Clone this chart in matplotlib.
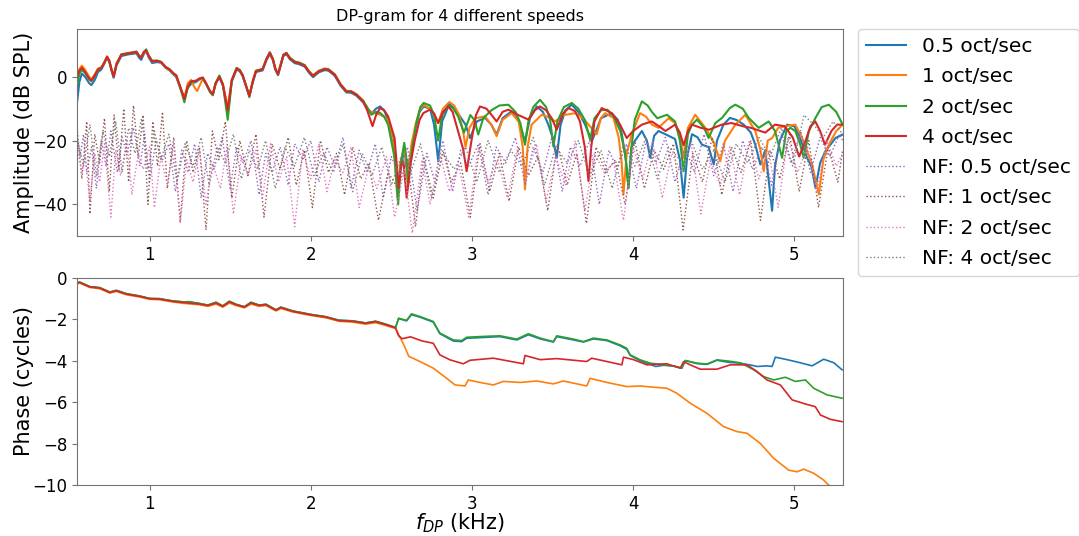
import numpy as np
import matplotlib
matplotlib.use("Agg")
import matplotlib.pyplot as plt

speeds = ["0.5 oct/sec", "1 oct/sec", "2 oct/sec", "4 oct/sec"]

# DP amplitude (dB SPL), per sweep speed
f_amp_05 = [0.550, 0.565, 0.580, 0.600, 0.625, 0.639, 0.660, 0.680, 0.701, 0.720, 0.736, 0.750, 0.765, 0.777, 0.795, 0.825,
            0.866, 0.895, 0.918, 0.935, 0.948, 0.965, 0.979, 0.995, 1.016, 1.045, 1.072, 1.100, 1.124, 1.150, 1.165, 1.190,
            1.216, 1.237, 1.258, 1.289, 1.310, 1.330, 1.350, 1.375, 1.392, 1.410, 1.433, 1.455, 1.485, 1.510, 1.540, 1.560,
            1.577, 1.600, 1.619, 1.640, 1.660, 1.701, 1.725, 1.746, 1.765, 1.780, 1.797, 1.815, 1.830, 1.849, 1.870, 1.900,
            1.930, 1.962, 1.990, 2.014, 2.050, 2.087, 2.110, 2.149, 2.185, 2.221, 2.250, 2.283, 2.325,
            2.350, 2.376, 2.405, 2.430, 2.455, 2.480, 2.520, 2.540, 2.560, 2.580, 2.592, 2.600, 2.625, 2.650, 2.675, 2.700,
            2.740, 2.765, 2.791, 2.815, 2.860, 2.900, 2.940, 2.960, 2.988, 3.030, 3.081, 3.120, 3.153, 3.190, 3.246, 3.290,
            3.329, 3.360, 3.402, 3.440, 3.474, 3.500, 3.526, 3.550, 3.580, 3.619, 3.660, 3.702, 3.743, 3.770, 3.800, 3.867,
            3.905, 3.930, 3.955, 3.971, 3.990, 4.012, 4.054, 4.085, 4.106, 4.130, 4.157, 4.200, 4.260, 4.290, 4.313, 4.335,
            4.365, 4.400, 4.427, 4.468, 4.500, 4.520, 4.560, 4.600, 4.640, 4.686, 4.730, 4.758, 4.789, 4.820, 4.862, 4.880,
            4.910, 4.955, 5.000, 5.027, 5.079, 5.105, 5.131, 5.160, 5.193, 5.255, 5.300]
amp_05 = [-8.0, -1.5, 1.0, 0.0, -2.0, -2.6, -1.0, 1.5, 2.3, 4.2, 6.0, 4.6, 1.8, -0.3, 3.6, 6.5,
          7.0, 7.2, 7.4, 6.0, 5.3, 7.2, 8.0, 6.0, 4.3, 4.6, 4.4, 2.8, 2.0, 0.6, 0.0, -3.5,
          -6.5, -3.5, -2.2, -1.6, -0.8, -0.6, -2.3, -4.6, -5.6, -2.2, -0.2, -2.8, -11.0, -1.5, 2.3, 1.7,
          0.2, -3.2, -6.0, -1.8, 1.5, 2.0, 5.2, 7.2, 5.2, 2.2, 0.5, 3.8, 6.5, 7.1, 5.5, 4.3,
          3.9, 3.2, 1.2, -0.1, 1.4, 2.1, 1.9, 0.3, -2.8, -4.9, -5.0, -5.9, -8.0,
          -10.0, -11.5, -10.0, -9.3, -10.5, -13.5, -22.0, -35.8, -27.0, -23.9, -26.0, -30.0, -22.0, -16.0, -11.0, -9.3,
          -10.0, -15.0, -26.5, -14.0, -8.5, -10.5, -13.5, -15.0, -19.2, -14.0, -12.9, -15.0, -18.1, -13.0, -10.8, -14.0,
          -20.2, -13.0, -9.3, -11.0, -15.0, -19.0, -25.4, -15.0, -10.5, -8.75, -11.0, -15.0, -20.2, -17.0, -13.0, -11.4,
          -13.5, -18.0, -26.0, -34.8, -22.0, -20.0, -17.0, -20.0, -25.4, -18.5, -17.0, -18.0, -19.5, -26.0, -37.9, -25.0,
          -18.0, -19.0, -21.3, -22.0, -27.5, -20.0, -15.0, -12.9, -13.5, -15.0, -17.5, -21.3, -27.5, -23.0, -42.0, -28.0,
          -20.0, -15.0, -15.5, -18.1, -25.4, -28.0, -34.8, -27.0, -23.3, -19.2, -18.1]

f_amp_1 = [0.550, 0.565, 0.580, 0.600, 0.625, 0.639, 0.660, 0.680, 0.701, 0.720, 0.736, 0.750, 0.765, 0.777, 0.795, 0.825,
           0.866, 0.895, 0.918, 0.935, 0.948, 0.965, 0.979, 0.995, 1.016, 1.045, 1.072, 1.100, 1.124, 1.150, 1.165, 1.190,
           1.216, 1.237, 1.258, 1.275, 1.295, 1.330, 1.350, 1.375, 1.392, 1.410, 1.433, 1.455, 1.485, 1.510, 1.540, 1.560,
           1.577, 1.600, 1.619, 1.640, 1.660, 1.701, 1.725, 1.746, 1.765, 1.780, 1.797, 1.815, 1.830, 1.849, 1.870, 1.900,
           1.930, 1.962, 1.990, 2.014, 2.050, 2.087, 2.110, 2.149, 2.185, 2.221, 2.250, 2.283, 2.325,
           2.350, 2.376, 2.405, 2.430, 2.455, 2.480, 2.515, 2.538, 2.555, 2.575, 2.590, 2.600, 2.625, 2.650, 2.675, 2.700,
           2.740, 2.765, 2.790, 2.820, 2.860, 2.890, 2.920, 2.945, 2.960, 2.985, 3.020, 3.081, 3.120, 3.153, 3.190, 3.246,
           3.290, 3.315, 3.329, 3.345, 3.370, 3.433, 3.470, 3.516, 3.570, 3.640, 3.690, 3.723, 3.774, 3.800, 3.826, 3.878,
           3.910, 3.929, 3.940, 3.960, 3.992, 4.043, 4.080, 4.116, 4.157, 4.220, 4.260, 4.290, 4.313, 4.340, 4.385, 4.448,
           4.500, 4.540, 4.570, 4.634, 4.696, 4.758, 4.790, 4.810, 4.835, 4.862, 4.900, 4.944, 5.006, 5.048, 5.110, 5.152,
           5.180, 5.214, 5.260, 5.300]
amp_1 = [-1.0, 2.5, 3.5, 2.2, 0.0, -0.8, 0.8, 2.6, 3.0, 4.6, 6.4, 5.2, 2.2, 0.3, 4.2, 7.0,
         7.5, 7.6, 7.9, 6.6, 6.2, 7.6, 8.2, 6.4, 4.8, 5.0, 4.5, 2.9, 2.2, 0.8, 0.3, -3.5,
         -6.5, -2.0, -1.0, -3.0, -4.5, -0.6, -2.2, -4.5, -5.4, -2.0, 0.2, -2.4, -9.5, -1.0, 2.7, 2.1,
         0.6, -3.0, -5.8, -1.3, 1.9, 2.5, 5.6, 7.6, 5.6, 2.6, 1.0, 4.2, 6.9, 7.5, 5.9, 4.8,
         4.4, 3.7, 1.7, 0.5, 1.9, 2.6, 2.4, 0.8, -2.3, -4.4, -4.5, -5.4, -7.4,
         -10.0, -11.0, -11.5, -11.9, -12.5, -13.5, -22.0, -37.9, -27.0, -23.0, -26.0, -33.0, -21.0, -15.0, -10.5, -8.75,
         -10.0, -12.0, -14.5, -10.0, -7.9, -9.0, -12.0, -17.0, -22.0, -16.0, -13.0, -12.4, -15.0, -18.6, -13.5, -11.4,
         -14.0, -22.0, -35.3, -22.0, -15.0, -11.9, -12.5, -14.0, -12.0, -11.4, -13.0, -15.0, -18.0, -13.0, -11.4, -12.9,
         -19.0, -27.0, -36.9, -24.0, -18.0, -11.4, -12.5, -15.0, -16.0, -13.0, -14.5, -18.5, -25.4, -16.0, -11.9, -16.0,
         -20.5, -26.5, -20.0, -15.0, -11.9, -17.0, -23.0, -29.6, -20.0, -19.2, -16.0, -15.5, -15.0, -19.2, -27.5, -36.9,
         -26.0, -21.3, -17.0, -15.0]

f_amp_2 = [0.550, 0.565, 0.580, 0.600, 0.625, 0.639, 0.660, 0.680, 0.701, 0.720, 0.736, 0.750, 0.765, 0.777, 0.795, 0.825,
           0.866, 0.895, 0.918, 0.935, 0.948, 0.965, 0.979, 0.995, 1.016, 1.045, 1.072, 1.100, 1.124, 1.150, 1.165, 1.190,
           1.216, 1.237, 1.258, 1.289, 1.310, 1.330, 1.350, 1.375, 1.392, 1.410, 1.433, 1.455, 1.485, 1.510, 1.540, 1.560,
           1.577, 1.600, 1.619, 1.640, 1.660, 1.701, 1.725, 1.746, 1.765, 1.780, 1.797, 1.815, 1.830, 1.849, 1.870, 1.900,
           1.930, 1.962, 1.990, 2.014, 2.050, 2.087, 2.110, 2.149, 2.185, 2.221, 2.250, 2.283, 2.325,
           2.350, 2.376, 2.405, 2.430, 2.455, 2.480, 2.520, 2.542, 2.560, 2.580, 2.592, 2.605, 2.630, 2.657, 2.680, 2.700,
           2.740, 2.765, 2.790, 2.815, 2.853, 2.885, 2.915, 2.950, 2.990, 3.015, 3.039, 3.070, 3.120, 3.170, 3.226, 3.270,
           3.300, 3.329, 3.350, 3.380, 3.422, 3.460, 3.485, 3.505, 3.530, 3.570, 3.619, 3.660, 3.700, 3.733, 3.760, 3.800,
           3.840, 3.880, 3.920, 3.950, 3.971, 3.990, 4.010, 4.054, 4.090, 4.116, 4.150, 4.210, 4.260, 4.290, 4.313, 4.340,
           4.365, 4.396, 4.440, 4.468, 4.510, 4.551, 4.600, 4.634, 4.680, 4.717, 4.779, 4.841, 4.880, 4.924, 4.950, 4.976,
           5.006, 5.035, 5.058, 5.090, 5.131, 5.170, 5.214, 5.260, 5.300]
amp_2 = [-3.0, 1.0, 2.2, 1.2, -0.8, -1.4, 0.2, 2.2, 2.8, 4.6, 6.2, 5.0, 2.0, 0.2, 4.0, 7.0,
         7.3, 7.6, 7.9, 6.6, 6.1, 7.9, 8.6, 6.6, 5.0, 5.1, 4.7, 3.1, 2.4, 1.0, 0.4, -3.4,
         -8.0, -3.2, -1.6, -1.3, -0.6, -0.2, -2.0, -4.8, -5.8, -2.0, 0.4, -2.4, -13.5, -1.2, 2.8, 2.1,
         0.6, -3.0, -6.4, -1.5, 1.9, 2.4, 5.6, 7.7, 5.6, 2.6, 0.8, 4.1, 6.9, 7.5, 6.0, 4.8,
         4.4, 3.6, 1.6, 0.3, 1.8, 2.5, 2.3, 0.7, -2.4, -4.6, -4.6, -5.6, -7.6,
         -9.5, -11.9, -11.0, -11.3, -12.5, -15.0, -25.4, -40.0, -27.0, -20.7, -25.0, -33.7, -22.0, -14.0, -9.5, -8.2,
         -9.0, -12.0, -20.0, -12.0, -9.0, -10.0, -12.5, -17.5, -12.0, -13.5, -18.1, -13.0, -10.5, -9.0, -8.75, -11.0,
         -14.5, -21.3, -14.0, -9.5, -7.2, -9.5, -13.5, -21.8, -14.0, -9.5, -8.2, -10.0, -13.5, -19.7, -13.0, -10.5,
         -10.3, -12.5, -17.0, -24.0, -34.8, -22.0, -13.5, -7.7, -9.0, -11.0, -13.0, -11.9, -14.0, -20.0, -29.6, -18.0,
         -15.0, -13.4, -16.0, -19.2, -14.5, -12.9, -9.8, -8.75, -10.0, -12.9, -16.0, -14.0, -17.0, -25.4, -17.0, -16.0,
         -17.0, -21.0, -25.4, -17.0, -12.9, -9.5, -8.75, -11.0, -15.0]

f_amp_4 = [0.550, 0.565, 0.580, 0.600, 0.625, 0.639, 0.660, 0.680, 0.701, 0.720, 0.736, 0.750, 0.765, 0.777, 0.795, 0.825,
           0.866, 0.895, 0.918, 0.935, 0.948, 0.965, 0.979, 0.995, 1.016, 1.045, 1.072, 1.100, 1.124, 1.150, 1.165, 1.190,
           1.216, 1.237, 1.258, 1.289, 1.310, 1.330, 1.350, 1.375, 1.392, 1.410, 1.433, 1.455, 1.485, 1.510, 1.540, 1.560,
           1.577, 1.600, 1.619, 1.640, 1.660, 1.701, 1.725, 1.746, 1.765, 1.780, 1.797, 1.815, 1.830, 1.849, 1.870, 1.900,
           1.930, 1.962, 1.990, 2.014, 2.050, 2.087, 2.110, 2.149, 2.185, 2.221, 2.250, 2.283, 2.325,
           2.350, 2.383, 2.405, 2.430, 2.455, 2.480, 2.520, 2.545, 2.560, 2.575, 2.595, 2.620, 2.646, 2.675, 2.698, 2.739,
           2.765, 2.791, 2.820, 2.853, 2.880, 2.905, 2.946, 2.967, 2.998, 3.025, 3.050, 3.090, 3.122, 3.153, 3.190, 3.226,
           3.288, 3.350, 3.390, 3.422, 3.460, 3.495, 3.526, 3.565, 3.600, 3.640, 3.670, 3.700, 3.723, 3.740, 3.760, 3.805,
           3.867, 3.919, 3.960, 4.000, 4.054, 4.116, 4.160, 4.200, 4.260, 4.290, 4.313, 4.340, 4.365, 4.420, 4.470, 4.550,
           4.610, 4.680, 4.730, 4.790, 4.820, 4.880, 4.940, 4.990, 5.030, 5.070, 5.100, 5.130, 5.160, 5.190, 5.230, 5.265,
           5.300]
amp_4 = [0.0, 2.0, 2.8, 1.5, -0.5, -1.2, 0.5, 2.3, 2.8, 4.5, 6.3, 5.0, 2.0, 0.0, 4.0, 7.0,
         7.3, 7.6, 7.8, 6.5, 6.0, 7.8, 8.3, 6.5, 4.9, 5.0, 4.6, 3.0, 2.3, 1.0, 0.5, -3.0,
         -7.0, -3.0, -1.4, -1.2, -0.5, -0.3, -2.0, -4.5, -5.5, -2.0, 0.0, -2.5, -10.5, -1.0, 2.6, 2.0,
         0.5, -3.0, -6.0, -1.5, 1.8, 2.3, 5.5, 7.5, 5.5, 2.5, 0.8, 4.0, 6.8, 7.4, 5.8, 4.6,
         4.2, 3.5, 1.5, 0.3, 1.7, 2.4, 2.2, 0.6, -2.5, -4.6, -4.6, -5.6, -7.7,
         -10.5, -15.5, -12.0, -9.8, -10.5, -12.4, -19.2, -34.8, -28.0, -26.5, -37.9, -27.0, -19.7, -13.5, -11.4, -10.3,
         -11.5, -14.5, -11.0, -9.3, -11.0, -15.5, -22.8, -29.6, -19.7, -12.0, -9.3, -10.0, -12.0, -14.0, -11.0, -10.3,
         -12.0, -13.4, -10.5, -9.3, -10.5, -13.0, -16.6, -11.5, -9.8, -10.8, -14.0, -22.0, -32.7, -22.0, -14.0, -9.8,
         -11.4, -15.0, -19.2, -17.0, -15.0, -14.0, -15.5, -17.0, -15.0, -17.5, -21.5, -17.0, -15.0, -16.0, -16.6, -15.0,
         -14.5, -15.5, -16.0, -17.0, -17.5, -15.0, -15.5, -19.0, -25.0, -20.0, -15.5, -14.0, -17.0, -21.3, -17.0, -15.0,
         -15.0]

# noise floor (dB SPL), one trace per speed
f_nf_05 = [0.55, 0.57, 0.59, 0.61, 0.64, 0.67, 0.70, 0.73, 0.76, 0.80, 0.83, 0.86, 0.90, 0.94, 0.97, 1.00, 1.04, 1.08,
           1.12, 1.16, 1.20, 1.24, 1.28, 1.32, 1.36, 1.40, 1.45, 1.50, 1.54, 1.58, 1.63, 1.68, 1.72, 1.76, 1.81, 1.86,
           1.90, 1.95, 2.00, 2.05, 2.10, 2.15, 2.20, 2.25, 2.30, 2.35, 2.40, 2.45, 2.50, 2.55, 2.60, 2.66, 2.72, 2.77,
           2.82, 2.88, 2.93, 2.98, 3.04, 3.10, 3.15, 3.21, 3.27, 3.33, 3.38, 3.44, 3.50, 3.56, 3.61, 3.67, 3.73, 3.79,
           3.85, 3.90, 3.96, 4.02, 4.08, 4.14, 4.20, 4.26, 4.32, 4.38, 4.44, 4.50, 4.56, 4.62, 4.68, 4.74, 4.80, 4.86,
           4.92, 4.98, 5.04, 5.10, 5.16, 5.22, 5.28, 5.30]
nf_05 = [-20, -25, -18, -30, -22, -35, -20, -28, -17, -30, -19, -24, -16, -28, -18, -33, -20, -26,
         -21, -36, -23, -30, -21, -38, -24, -29, -19, -35, -22, -27, -20, -37, -24, -30, -22, -34,
         -21, -26, -20, -33, -22, -28, -19, -35, -23, -30, -21, -38, -25, -31, -22, -42, -24, -33,
         -20, -36, -23, -28, -21, -37, -22, -27, -19, -34, -22, -30, -18, -36, -22, -28, -20, -40,
         -23, -29, -21, -35, -20, -27, -19, -33, -22, -30, -18, -31, -21, -36, -20, -29, -22, -34,
         -18, -27, -17, -30, -19, -25, -18, -20]

f_nf_1 = [0.55, 0.58, 0.61, 0.63, 0.66, 0.69, 0.72, 0.75, 0.78, 0.81, 0.84, 0.87, 0.90, 0.93, 0.96, 0.99, 1.02, 1.05,
          1.08, 1.11, 1.15, 1.19, 1.23, 1.27, 1.31, 1.35, 1.39, 1.43, 1.47, 1.51, 1.56, 1.61, 1.66, 1.71, 1.76, 1.81,
          1.86, 1.91, 1.96, 2.01, 2.06, 2.11, 2.16, 2.21, 2.26, 2.31, 2.36, 2.42, 2.48, 2.54, 2.60, 2.65, 2.70, 2.76,
          2.82, 2.87, 2.93, 2.99, 3.05, 3.11, 3.17, 3.23, 3.29, 3.35, 3.41, 3.47, 3.53, 3.59, 3.65, 3.71, 3.77, 3.83,
          3.89, 3.95, 4.01, 4.07, 4.13, 4.19, 4.25, 4.31, 4.37, 4.43, 4.49, 4.55, 4.61, 4.67, 4.73, 4.79, 4.85, 4.91,
          4.97, 5.03, 5.09, 5.15, 5.21, 5.27, 5.30]
nf_1 = [-16, -32, -14, -43, -18, -27, -13, -36, -12, -29, -10, -33, -9, -25, -12, -40, -14, -28,
        -11, -35, -19, -45, -20, -30, -22, -48, -17, -26, -14, -38, -20, -31, -18, -44, -21, -29,
        -19, -34, -23, -41, -20, -30, -24, -37, -22, -32, -27, -45, -30, -35, -26, -47, -25, -38,
        -23, -33, -27, -44, -21, -36, -24, -39, -22, -31, -25, -42, -21, -34, -24, -46, -22, -30,
        -26, -40, -20, -35, -23, -29, -21, -48, -24, -33, -19, -37, -22, -30, -20, -45, -23, -32,
        -18, -36, -20, -41, -22, -33, -23]

f_nf_2 = [0.55, 0.58, 0.60, 0.63, 0.66, 0.69, 0.72, 0.76, 0.79, 0.82, 0.86, 0.89, 0.93, 0.96, 1.00, 1.03, 1.07, 1.11,
          1.15, 1.19, 1.23, 1.27, 1.31, 1.35, 1.39, 1.44, 1.48, 1.52, 1.57, 1.61, 1.66, 1.70, 1.75, 1.80, 1.85, 1.90,
          1.95, 2.00, 2.05, 2.10, 2.15, 2.20, 2.25, 2.30, 2.36, 2.41, 2.47, 2.52, 2.58, 2.63, 2.69, 2.74, 2.80, 2.86,
          2.92, 2.98, 3.04, 3.10, 3.16, 3.22, 3.28, 3.34, 3.40, 3.46, 3.52, 3.58, 3.64, 3.70, 3.76, 3.82, 3.88, 3.94,
          4.00, 4.06, 4.12, 4.18, 4.24, 4.30, 4.36, 4.42, 4.48, 4.54, 4.60, 4.66, 4.72, 4.78, 4.84, 4.90, 4.96, 5.02,
          5.08, 5.14, 5.20, 5.26, 5.30]
nf_2 = [-22, -30, -25, -39, -24, -33, -21, -44, -23, -31, -20, -37, -24, -29, -22, -41, -25, -34,
        -21, -46, -26, -33, -23, -40, -27, -35, -22, -43, -25, -31, -23, -38, -21, -33, -25, -47,
        -23, -32, -21, -36, -26, -30, -22, -41, -28, -35, -25, -44, -29, -49, -26, -40, -24, -36,
        -28, -44, -22, -33, -26, -38, -23, -31, -21, -39, -25, -34, -20, -42, -24, -30, -27, -45,
        -22, -32, -20, -38, -24, -30, -21, -43, -26, -34, -22, -37, -20, -32, -23, -41, -19, -30,
        -22, -36, -20, -28, -24]

f_nf_4 = [0.55, 0.59, 0.63, 0.67, 0.71, 0.75, 0.79, 0.83, 0.87, 0.91, 0.95, 0.99, 1.03, 1.07, 1.12, 1.17, 1.22, 1.27,
          1.32, 1.37, 1.42, 1.47, 1.52, 1.57, 1.62, 1.67, 1.72, 1.78, 1.84, 1.90, 1.96, 2.02, 2.08, 2.14, 2.20, 2.26,
          2.32, 2.38, 2.44, 2.50, 2.56, 2.62, 2.68, 2.75, 2.82, 2.89, 2.96, 3.03, 3.10, 3.17, 3.24, 3.31, 3.38, 3.45,
          3.52, 3.59, 3.66, 3.73, 3.80, 3.87, 3.94, 4.01, 4.08, 4.15, 4.22, 4.29, 4.36, 4.43, 4.50, 4.57, 4.64, 4.71,
          4.78, 4.85, 4.92, 4.99, 5.06, 5.12, 5.18, 5.24, 5.30]
nf_4 = [-19, -28, -15, -31, -17, -25, -14, -30, -16, -24, -13, -29, -17, -26, -18, -33, -21, -28,
        -19, -34, -22, -27, -18, -32, -23, -29, -20, -35, -22, -28, -19, -31, -24, -30, -21, -36,
        -24, -31, -22, -34, -25, -30, -21, -38, -24, -29, -22, -33, -20, -30, -23, -28, -19, -34,
        -22, -27, -20, -31, -23, -35, -21, -28, -19, -32, -22, -26, -20, -29, -23, -33, -21, -27,
        -19, -25, -16, -28, -12, -15, -19, -14, -18]

# DP phase (cycles)
f_ph_05 = [0.550, 0.565, 0.629, 0.691, 0.753, 0.794, 0.856, 0.938, 1.000, 1.062, 1.144, 1.216, 1.240, 1.309, 1.361,
           1.412, 1.454, 1.495, 1.536, 1.588, 1.629, 1.680, 1.722, 1.784, 1.814, 1.887, 2.000, 2.093, 2.175, 2.258,
           2.340, 2.402, 2.464, 2.526, 2.545, 2.594, 2.625, 2.677, 2.760, 2.801, 2.884, 2.936, 2.967, 3.071, 3.174,
           3.278, 3.350, 3.423, 3.505, 3.526, 3.630, 3.692, 3.754, 3.837, 3.919, 3.960, 3.982, 4.044, 4.106, 4.140,
           4.189, 4.251, 4.302, 4.323, 4.396, 4.458, 4.520, 4.592, 4.665, 4.748, 4.768, 4.830, 4.862, 4.882, 4.955,
           5.037, 5.110, 5.182, 5.245, 5.296]
ph_05 = [-0.27, -0.21, -0.43, -0.48, -0.69, -0.61, -0.77, -0.88, -1.00, -1.01, -1.12, -1.17, -1.16, -1.24, -1.32,
         -1.19, -1.36, -1.14, -1.28, -1.40, -1.19, -1.32, -1.28, -1.55, -1.42, -1.60, -1.77, -1.88, -2.05, -2.08,
         -2.18, -2.10, -2.24, -2.40, -1.97, -2.08, -1.78, -1.90, -2.14, -2.70, -3.05, -3.08, -2.92, -2.88, -2.84,
         -3.00, -2.75, -2.95, -3.10, -2.84, -3.00, -3.10, -2.95, -3.03, -3.28, -3.45, -3.75, -4.00, -4.18, -4.28,
         -4.22, -4.26, -4.36, -4.00, -4.14, -4.18, -3.98, -4.08, -4.12, -4.24, -4.28, -4.25, -4.28, -3.83, -3.95,
         -4.10, -4.25, -3.93, -4.10, -4.44]

f_ph_1 = [0.550, 0.565, 0.629, 0.691, 0.753, 0.794, 0.856, 0.938, 1.000, 1.062, 1.144, 1.216, 1.309, 1.361, 1.412,
          1.454, 1.495, 1.536, 1.588, 1.629, 1.680, 1.722, 1.784, 1.814, 1.887, 2.000, 2.093, 2.175, 2.258, 2.340,
          2.402, 2.464, 2.526, 2.577, 2.608, 2.677, 2.760, 2.843, 2.895, 2.957, 2.977, 3.050, 3.133, 3.195, 3.298,
          3.402, 3.505, 3.567, 3.712, 3.733, 3.837, 3.961, 4.044, 4.126, 4.209, 4.271, 4.354, 4.458, 4.561, 4.644,
          4.706, 4.789, 4.872, 4.965, 5.017, 5.058, 5.120, 5.182, 5.224, 5.270]
ph_1 = [-0.30, -0.25, -0.47, -0.53, -0.74, -0.66, -0.82, -0.93, -1.04, -1.06, -1.17, -1.24, -1.30, -1.38, -1.27,
        -1.42, -1.22, -1.34, -1.45, -1.27, -1.38, -1.34, -1.60, -1.48, -1.65, -1.82, -1.93, -2.10, -2.14, -2.24,
        -2.17, -2.30, -2.45, -3.23, -3.79, -4.04, -4.36, -4.85, -5.17, -5.22, -4.93, -5.05, -5.17, -5.00, -5.05,
        -4.98, -5.12, -4.98, -5.22, -4.85, -5.05, -5.25, -5.22, -5.28, -5.33, -5.57, -6.05, -6.54, -7.18, -7.42,
        -7.50, -7.99, -8.71, -9.28, -9.36, -9.23, -9.43, -9.76, -10.08, -10.40]

f_ph_2 = [0.550, 0.565, 0.629, 0.691, 0.753, 0.794, 0.856, 0.938, 1.000, 1.062, 1.144, 1.216, 1.240, 1.309, 1.361,
          1.412, 1.454, 1.495, 1.536, 1.588, 1.629, 1.680, 1.722, 1.784, 1.814, 1.887, 2.000, 2.093, 2.175, 2.258,
          2.340, 2.402, 2.464, 2.526, 2.545, 2.594, 2.625, 2.677, 2.760, 2.801, 2.884, 2.936, 2.967, 3.071, 3.174,
          3.278, 3.350, 3.423, 3.505, 3.526, 3.630, 3.692, 3.754, 3.837, 3.919, 3.960, 3.982, 4.044, 4.106, 4.189,
          4.251, 4.302, 4.323, 4.396, 4.458, 4.520, 4.592, 4.665, 4.748, 4.810, 4.872, 4.944, 5.006, 5.069, 5.120,
          5.203, 5.296]
ph_2 = [-0.27, -0.21, -0.43, -0.48, -0.69, -0.61, -0.77, -0.88, -1.00, -1.01, -1.12, -1.17, -1.15, -1.24, -1.32,
        -1.18, -1.36, -1.13, -1.28, -1.40, -1.18, -1.32, -1.28, -1.55, -1.42, -1.60, -1.77, -1.88, -2.05, -2.08,
        -2.18, -2.10, -2.24, -2.40, -1.95, -2.06, -1.74, -1.87, -2.11, -2.67, -3.00, -3.03, -2.87, -2.83, -2.80,
        -2.96, -2.70, -2.91, -3.08, -2.80, -2.96, -3.08, -2.91, -3.00, -3.24, -3.40, -3.72, -3.96, -4.12, -4.20,
        -4.26, -4.36, -3.99, -4.12, -4.16, -3.96, -4.02, -4.10, -4.44, -4.77, -4.93, -4.80, -5.00, -4.93, -5.33,
        -5.65, -5.81]

f_ph_4 = [0.550, 0.565, 0.629, 0.691, 0.753, 0.794, 0.856, 0.938, 1.000, 1.062, 1.144, 1.216, 1.309, 1.361, 1.412,
          1.454, 1.495, 1.536, 1.588, 1.629, 1.680, 1.722, 1.784, 1.814, 1.887, 2.000, 2.093, 2.175, 2.258, 2.340,
          2.402, 2.464, 2.526, 2.545, 2.567, 2.619, 2.691, 2.760, 2.801, 2.864, 2.946, 2.988, 3.133, 3.319, 3.329,
          3.423, 3.526, 3.712, 3.743, 3.930, 3.940, 4.002, 4.085, 4.209, 4.292, 4.313, 4.354, 4.416, 4.520, 4.603,
          4.706, 4.768, 4.830, 4.913, 4.986, 5.069, 5.130, 5.162, 5.224, 5.296]
ph_4 = [-0.28, -0.22, -0.44, -0.50, -0.71, -0.63, -0.79, -0.90, -1.01, -1.03, -1.14, -1.20, -1.27, -1.34, -1.22,
        -1.38, -1.17, -1.30, -1.42, -1.22, -1.34, -1.30, -1.57, -1.44, -1.62, -1.79, -1.90, -2.07, -2.10, -2.20,
        -2.12, -2.26, -2.42, -2.80, -2.94, -2.85, -3.05, -3.16, -3.72, -3.96, -4.15, -3.98, -3.88, -4.15, -3.75,
        -3.95, -3.90, -4.04, -3.88, -4.20, -3.83, -3.95, -4.20, -4.15, -4.36, -4.05, -4.20, -4.41, -4.41, -4.20,
        -4.20, -4.52, -4.93, -5.17, -5.89, -6.09, -6.22, -6.62, -6.83, -6.94]


def main():
    fig, (ax1, ax2) = plt.subplots(2, 1, figsize=(10.79, 5.36), dpi=100)
    fig.subplots_adjust(left=0.0714, right=0.781, top=0.946, bottom=0.095, hspace=0.2)

    amp_series = [(f_amp_05, amp_05), (f_amp_1, amp_1), (f_amp_2, amp_2), (f_amp_4, amp_4)]
    nf_series = [(f_nf_05, nf_05), (f_nf_1, nf_1), (f_nf_2, nf_2), (f_nf_4, nf_4)]
    ph_series = [(f_ph_05, ph_05), (f_ph_1, ph_1), (f_ph_2, ph_2), (f_ph_4, ph_4)]
    main_colors = ['tab:blue', 'tab:orange', 'tab:green', 'tab:red']
    nf_colors = ['tab:purple', 'tab:brown', 'tab:pink', 'tab:gray']

    # amplitude
    for (f, a), c, lab in zip(amp_series, main_colors, speeds):
        ax1.plot(f, a, color=c, lw=1.5, label=lab)
    for (f, a), c, lab in zip(nf_series, nf_colors, speeds):
        ax1.plot(f, a, color=c, lw=1.0, ls=':', label='NF: ' + lab)
    ax1.set_xlim(0.55, 5.3)
    ax1.set_ylim(-50, 15)
    ax1.set_yticks([-40, -20, 0])
    ax1.set_xticks([1, 2, 3, 4, 5])
    ax1.set_ylabel('Amplitude (dB SPL)', fontsize=15, labelpad=-1)
    ax1.set_title('DP-gram for 4 different speeds', fontsize=11.5)
    ax1.tick_params(labelsize=12)
    ax1.legend(loc='upper left', bbox_to_anchor=(1.02, 1.0), borderaxespad=0,
               fontsize=14.5, labelspacing=0.56)

    # phase
    for (f, p), c in zip(ph_series, main_colors):
        ax2.plot(f, p, color=c, lw=1.2)
    ax2.set_xlim(0.55, 5.3)
    ax2.set_ylim(-10, 0)
    ax2.set_xticks([1, 2, 3, 4, 5])
    ax2.set_ylabel('Phase (cycles)', fontsize=15, labelpad=-1)
    ax2.set_xlabel(r'$f_{DP}$ (kHz)', fontsize=15, labelpad=-1)
    ax2.tick_params(labelsize=12)

    for ax in (ax1, ax2):
        for s in ax.spines.values():
            s.set_color('0.45')
        ax.tick_params(color='0.45')

    plt.savefig('out.png', dpi=100)


if __name__ == '__main__':
    main()
